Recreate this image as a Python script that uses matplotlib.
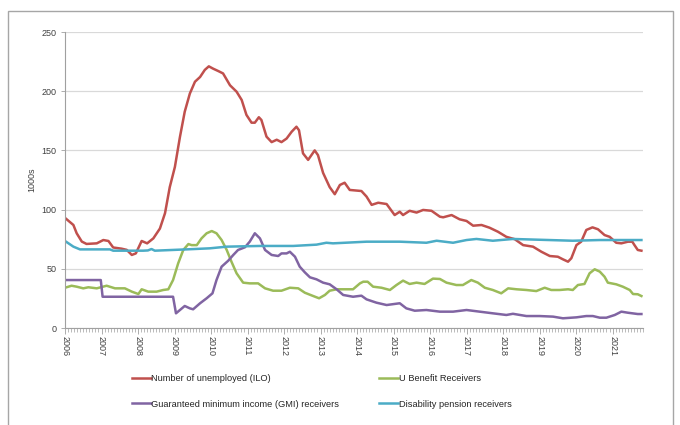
import matplotlib
matplotlib.use("Agg")
import matplotlib.pyplot as plt
import numpy as np
from matplotlib.patches import Rectangle
from matplotlib.ticker import MultipleLocator, FixedLocator

plt.rcParams['font.family'] = ['Liberation Sans', 'DejaVu Sans']

# ---- data (thousands) ----
ilo_years = [2006.0, 2006.23, 2006.32, 2006.46, 2006.59, 2006.87, 2007.05, 2007.19, 2007.32, 2007.55,
             2007.69, 2007.83, 2007.94, 2008.10, 2008.25, 2008.42, 2008.60, 2008.74, 2008.87, 2009.01,
             2009.15, 2009.28, 2009.42, 2009.56, 2009.70, 2009.83, 2009.94, 2010.06, 2010.20, 2010.33,
             2010.52, 2010.70, 2010.84, 2010.97, 2011.11, 2011.20, 2011.31, 2011.38, 2011.52, 2011.66,
             2011.80, 2011.93, 2012.07, 2012.21, 2012.34, 2012.41, 2012.52, 2012.66, 2012.84, 2012.93,
             2013.07, 2013.25, 2013.39, 2013.53, 2013.66, 2013.80, 2014.12, 2014.26, 2014.40, 2014.58,
             2014.81, 2015.03, 2015.17, 2015.26, 2015.44, 2015.63, 2015.81, 2016.04, 2016.27, 2016.36,
             2016.59, 2016.81, 2017.00, 2017.18, 2017.41, 2017.63, 2017.86, 2018.09, 2018.32, 2018.55,
             2018.82, 2019.05, 2019.28, 2019.50, 2019.64, 2019.78, 2019.87, 2020.01, 2020.14, 2020.28,
             2020.45, 2020.60, 2020.78, 2020.92, 2021.10, 2021.24, 2021.42, 2021.54, 2021.60, 2021.69,
             2021.79]
ilo_values = [93, 87, 80, 73, 71, 71.5, 74.3, 73.5, 68, 67,
              66, 61.7, 63, 73.5, 71.5, 75.7, 84, 97, 119, 136,
              161.6, 182.7, 198, 208, 212, 218, 221, 219, 217, 215,
              205, 199.6, 192.6, 180, 173.4, 173.4, 178, 175.7, 161.6, 157,
              159, 157, 160, 165.8, 170, 167, 147.5, 142, 150, 146,
              131, 119, 113, 120.8, 122.7, 116.6, 115.7, 111, 104, 105.8,
              104.7, 95.4, 98.2, 95.4, 99, 97.5, 99.7, 99, 94, 93.5,
              95.4, 91.8, 90.4, 86.4, 87, 84.7, 81.3, 77, 75, 70,
              68.7, 64.4, 60.8, 60.2, 58, 56, 58.9, 70, 72.9, 82.8,
              85, 83.4, 78.5, 77, 72, 71.5, 72.9, 72.9, 70, 65.9,
              65.3]

ub_years = [2006.0, 2006.18, 2006.32, 2006.50, 2006.64, 2006.87, 2007.14, 2007.37, 2007.64, 2007.83,
            2008.01, 2008.10, 2008.28, 2008.51, 2008.69, 2008.83, 2008.96, 2009.10, 2009.24, 2009.38,
            2009.47, 2009.61, 2009.74, 2009.88, 2010.02, 2010.15, 2010.29, 2010.43, 2010.56, 2010.70,
            2010.88, 2011.06, 2011.29, 2011.48, 2011.70, 2011.93, 2012.16, 2012.39, 2012.57, 2012.80,
            2012.96, 2013.12, 2013.25, 2013.44, 2013.89, 2014.08, 2014.17, 2014.29, 2014.44, 2014.67,
            2014.90, 2015.08, 2015.26, 2015.44, 2015.63, 2015.85, 2016.08, 2016.27, 2016.45, 2016.72,
            2016.90, 2017.13, 2017.31, 2017.50, 2017.72, 2017.95, 2018.14, 2018.37, 2018.64, 2018.91,
            2019.14, 2019.32, 2019.55, 2019.78, 2019.91, 2020.05, 2020.23, 2020.37, 2020.51, 2020.65,
            2020.78, 2020.87, 2021.10, 2021.28, 2021.47, 2021.56, 2021.69, 2021.79]
ub_values = [34, 35.7, 34.9, 33.5, 34.4, 33.5, 35.7, 33.5, 33.5, 30.7,
             28.7, 32.7, 30.7, 30.7, 32.1, 32.7, 40.5, 54.6, 65.9, 70.9,
             70, 70, 75.7, 80, 81.9, 80, 74.3, 65.9, 56, 46.2,
             38.3, 37.7, 37.7, 33.5, 31.5, 31.5, 34, 33.5, 29.8, 27,
             25.1, 27.9, 31.5, 32.7, 32.7, 37.7, 39.1, 39.1, 34.9, 34,
             32.1, 36.3, 40, 37.2, 38.3, 37.2, 41.7, 41.4, 38.3, 36.3,
             36.3, 40.5, 38.3, 34, 32.1, 29.3, 33.5, 32.7, 32.1, 31.2,
             34, 32.1, 32.1, 32.7, 32.1, 36.3, 37.2, 46.2, 49.6, 47.6,
             43.3, 38.3, 36.9, 34.9, 32.1, 28.7, 28.5, 27]

gmi_years = [2006.0, 2006.98, 2007.03, 2008.96, 2009.04, 2009.28, 2009.42, 2009.51, 2009.70, 2009.88,
             2010.04, 2010.15, 2010.29, 2010.47, 2010.61, 2010.74, 2010.93, 2011.06, 2011.20, 2011.34,
             2011.48, 2011.66, 2011.84, 2011.93, 2012.07, 2012.16, 2012.30, 2012.43, 2012.57, 2012.71,
             2012.89, 2013.07, 2013.25, 2013.44, 2013.62, 2013.89, 2014.12, 2014.26, 2014.53, 2014.81,
             2015.17, 2015.35, 2015.58, 2015.90, 2016.27, 2016.63, 2017.00, 2017.36, 2017.72, 2018.09,
             2018.27, 2018.64, 2019.00, 2019.37, 2019.64, 2020.01, 2020.28, 2020.46, 2020.65, 2020.83,
             2021.06, 2021.24, 2021.42, 2021.69, 2021.79]
gmi_values = [40.5, 40.5, 26.4, 26.4, 12.4, 18.6, 16.6, 15.8, 20.9, 25.1,
              29.3, 40.5, 51.8, 56.8, 61.7, 65.9, 68.2, 72.9, 80, 75.7,
              65.9, 61.7, 60.8, 63, 63, 64.4, 60.2, 51.8, 47, 42.8,
              41.1, 38.3, 36.9, 32.7, 27.9, 26.4, 27.3, 24.2, 21.4, 19.4,
              20.9, 16.6, 14.6, 15.2, 13.8, 13.8, 15.2, 13.8, 12.4, 11,
              12, 10.1, 10.1, 9.6, 8.2, 9, 10.1, 10.1, 8.7, 8.7,
              11, 13.8, 12.9, 11.8, 11.8]

dis_years = [2006.0, 2006.23, 2006.41, 2007.23, 2007.32, 2008.14, 2008.27, 2008.37, 2008.46, 2009.33,
             2009.97, 2010.43, 2011.34, 2012.25, 2012.89, 2013.16, 2013.34, 2014.26, 2015.17, 2015.90,
             2016.18, 2016.63, 2017.00, 2017.27, 2017.72, 2018.27, 2019.91, 2020.65, 2021.79]
dis_values = [73.5, 68.7, 66.4, 66.4, 65.3, 65.3, 65.5, 66.7, 65.3, 66.4,
              67.3, 68.7, 69.3, 69.3, 70.4, 72, 71.5, 72.9, 72.9, 72,
              73.7, 72, 74.3, 75.2, 73.7, 75.2, 73.7, 74.3, 74.3]

year_labels = [str(y) for y in range(2006, 2022)]
labels = ["Number of unemployed (ILO)", "U Benefit Receivers",
          "Guaranteed minimum income (GMI) receivers", "Disability pension receivers"]
colors = ["#c0504d", "#9bbb59", "#8064a2", "#4bacc6"]

# ---- figure ----
fig = plt.figure(figsize=(6.8, 4.25), dpi=100)
ax = fig.add_axes([65/680, 1-328/425, (643-65)/680, (328-32)/425])

lw = 1.8
l1, = ax.plot(ilo_years, ilo_values, color=colors[0], lw=lw, label=labels[0])
l2, = ax.plot(ub_years, ub_values, color=colors[1], lw=lw, label=labels[1])
l3, = ax.plot(gmi_years, gmi_values, color=colors[2], lw=lw, label=labels[2])
l4, = ax.plot(dis_years, dis_values, color=colors[3], lw=lw, label=labels[3])

ax.set_xlim(2006, 2006 + 190/12)
ax.set_ylim(0, 250)
ax.yaxis.set_major_locator(MultipleLocator(50))
ax.grid(axis='y', color='#d9d9d9', lw=0.9)
ax.set_axisbelow(True)

ax.xaxis.set_major_locator(FixedLocator(list(range(2006, 2022))))
ax.set_xticklabels(year_labels, rotation=-90, fontsize=6.5, color='#404040')
ax.xaxis.set_minor_locator(MultipleLocator(1/12))
ax.tick_params(axis='x', which='major', length=4, width=0.6, color='#a0a0a0', pad=2)
ax.tick_params(axis='x', which='minor', length=3, width=0.5, color='#a0a0a0')
ax.tick_params(axis='y', length=3, width=0.6, color='#a0a0a0', labelsize=6.5,
               labelcolor='#404040', pad=3)

for s in ['top', 'right']:
    ax.spines[s].set_visible(False)
for s in ['left', 'bottom']:
    ax.spines[s].set_color('#a0a0a0')
    ax.spines[s].set_linewidth(0.8)

ax.set_ylabel("1000s", fontsize=6.5, color='#404040', labelpad=4)

fig.legend([l1, l3, l2, l4], [labels[0], labels[2], labels[1], labels[3]],
           ncol=2, loc='upper left', bbox_to_anchor=(124/680, 1-366/425),
           frameon=False, fontsize=6.7, handlelength=2.0, handletextpad=0.05,
           columnspacing=4.3, labelspacing=1.75, labelcolor='#262626')

fig.add_artist(Rectangle((7.7/680, -0.02), (673-7.7)/680, 1-11/425+0.02,
                         transform=fig.transFigure, fill=False,
                         edgecolor='#a6a6a6', lw=1.0, clip_on=False))

fig.savefig("out.png", dpi=100)
